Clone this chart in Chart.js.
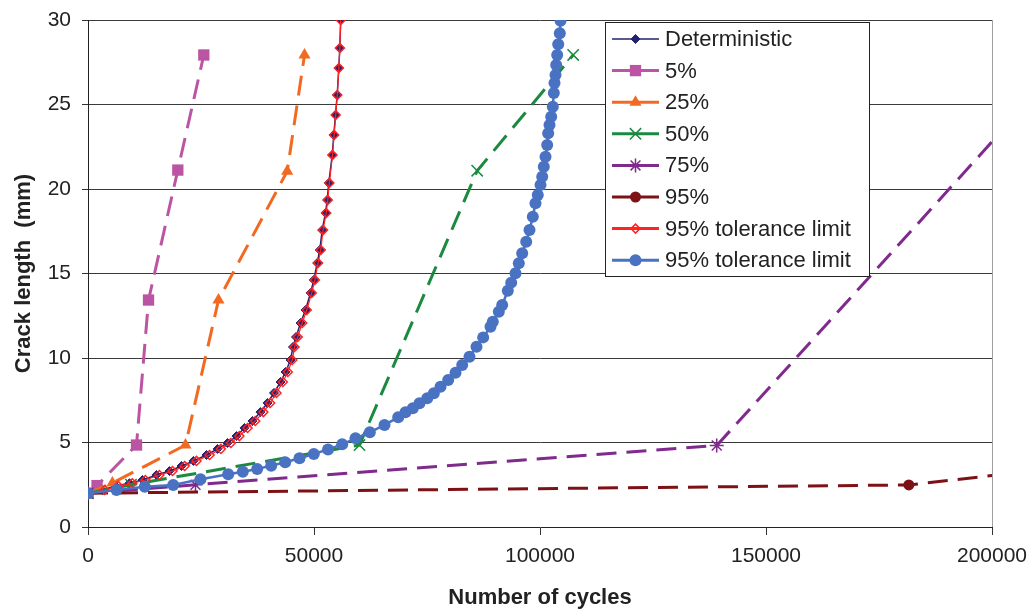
<!DOCTYPE html>
<html>
<head>
<meta charset="utf-8">
<script src="https://cdn.jsdelivr.net/npm/chart.js@4.4.1/dist/chart.umd.min.js"></script>
<style>
  body { margin: 0; background: #fff; }
  #wrap { width: 1034px; height: 609px; }
</style>
</head>
<body>
<div id="wrap"><canvas id="crackChart" width="1034" height="609"></canvas></div>
<script>
// Crack length (mm) vs number of cycles
const detN = [0, 3210, 6080, 9180, 12060, 15150, 18030, 20690, 23340, 26220, 28660, 30870, 32860, 34620, 36390, 38160, 39710, 41150, 42590, 43700, 44800, 45350, 46020, 47020, 48120, 49230, 49960, 50710, 51280, 51810, 52540, 52920, 53270, 54030, 54380, 54750, 55130, 55490, 55710, 55910];
const detA = [2.00, 2.19, 2.43, 2.59, 2.78, 3.08, 3.31, 3.61, 3.91, 4.26, 4.62, 4.97, 5.38, 5.86, 6.27, 6.80, 7.34, 7.93, 8.58, 9.17, 9.88, 10.65, 11.24, 12.07, 12.84, 13.85, 14.62, 15.62, 16.39, 17.57, 18.58, 19.35, 20.36, 22.01, 23.20, 24.38, 25.56, 27.16, 28.34, 30.0];

const tolRedN = [0, 3700, 6700, 9800, 12700, 15800, 18700, 21400, 24000, 26900, 29400, 31600, 33500, 35300, 37000, 38800, 40300, 41700, 43100, 44200, 45200, 45700, 46400, 47400, 48400, 49500, 50200, 50900, 51500, 52000, 52700, 53050, 53400, 54100, 54450, 54800, 55150, 55500, 55720, 55910];

const tolBlueN = [0, 6310, 12570, 18850, 24890, 31020, 34250, 37430, 40530, 43630, 46790, 49960, 53100, 56240, 59180, 62350, 65600, 68630, 70240, 71860, 73340, 75050, 76510, 77990, 79690, 81310, 82790, 84400, 85950, 87430, 89050, 89560, 90890, 91640, 92880, 93630, 94580, 95310, 96060, 96950, 97680, 98410, 99000, 99510, 100110, 100490, 100840, 101220, 101590, 101810, 102100, 102480, 102830, 103060, 103210, 103430, 103580, 103800, 104030, 104380, 104540];
const tolBlueA = [2.0, 2.19, 2.38, 2.49, 2.82, 3.12, 3.27, 3.43, 3.63, 3.83, 4.07, 4.32, 4.59, 4.89, 5.25, 5.60, 6.04, 6.49, 6.79, 7.02, 7.32, 7.62, 7.91, 8.30, 8.70, 9.13, 9.59, 10.08, 10.67, 11.22, 11.85, 12.15, 12.74, 13.14, 13.98, 14.46, 15.01, 15.60, 16.20, 16.88, 17.57, 18.36, 19.15, 19.64, 20.24, 20.73, 21.32, 21.91, 22.60, 23.30, 23.79, 24.28, 24.87, 25.68, 26.27, 26.75, 27.34, 27.93, 28.56, 29.21, 29.96];

const p5N = [0, 2000, 10730, 13390, 19870, 25620];
const p5A = [2, 2.45, 4.85, 13.43, 21.12, 27.93];
const p25N = [0, 5400, 21570, 28870, 44070, 47900];
const p25A = [2, 2.6, 4.85, 13.43, 21.05, 27.93];
const p50N = [0, 9500, 60070, 86100, 107340];
const p50A = [2, 2.5, 4.85, 21.08, 27.93];
const p75N = [0, 23780, 139100, 217400];
const p75A = [2, 2.5, 4.82, 27.93];
const p95N = [0, 181600, 259700];
const p95A = [2, 2.49, 4.85];

const xTicks = [0, 50000, 100000, 150000, 200000];
const yTicks = [0, 5, 10, 15, 20, 25, 30];

const pts = (xs, ys) => xs.map((x, i) => ({ x: x, y: ys[i] }));

const FONT = "'Liberation Sans', Arial, sans-serif";

const datasets = [
    { label: 'Deterministic', data: pts(detN, detA), borderColor: '#23236f', backgroundColor: '#23236f',
      borderWidth: 1.5, pointStyle: 'rectRot', pointRadius: 4.5, pointBorderWidth: 1 },
    { label: '5%', data: pts(p5N, p5A), borderColor: '#bb55a3', backgroundColor: '#bb55a3',
      borderWidth: 3, borderDash: [20, 10], pointStyle: 'rect', pointRadius: 8, pointBorderWidth: 0 },
    { label: '25%', data: pts(p25N, p25A), borderColor: '#f26a22', backgroundColor: '#f26a22',
      borderWidth: 3, borderDash: [20, 10], pointStyle: 'triangle', pointRadius: 7, pointBorderWidth: 0 },
    { label: '50%', data: pts(p50N, p50A), borderColor: '#1b8a40', backgroundColor: '#1b8a40',
      borderWidth: 3, borderDash: [20, 10], pointStyle: 'crossRot', pointRadius: 8, pointBorderWidth: 1.5 },
    { label: '75%', data: pts(p75N, p75A), borderColor: '#7f2a8c', backgroundColor: '#7f2a8c',
      borderWidth: 3, borderDash: [20, 10], pointStyle: 'star', pointRadius: 7, pointBorderWidth: 1.5 },
    { label: '95%', data: pts(p95N, p95A), borderColor: '#7d1216', backgroundColor: '#7d1216',
      borderWidth: 3, borderDash: [20, 10], pointStyle: 'circle', pointRadius: 5.5, pointBorderWidth: 0 },
    { label: '95% tolerance limit', data: pts(tolRedN, detA), borderColor: '#ff2323', backgroundColor: 'rgba(255,255,255,0)',
      borderWidth: 1.2, pointStyle: 'rectRot', pointRadius: 4.5, pointBorderWidth: 1.5 },
    { label: '95% tolerance limit', data: pts(tolBlueN, tolBlueA), borderColor: '#4a72c2', backgroundColor: '#4a72c2',
      borderWidth: 2.5, pointStyle: 'circle', pointRadius: 6, pointBorderWidth: 0 }
];
datasets.forEach((d, i) => {
    d.order = datasets.length - i;   // later series on top, like the original
    d.fill = false;
    d.tension = 0;
    d.pointBackgroundColor = d.backgroundColor;
    d.pointBorderColor = d.borderColor;
});

// legend drawn by hand: line + marker + label
const boxLegend = {
    id: 'boxLegend',
    afterDraw(chart) {
        const ctx = chart.ctx;
        const left = 605, top = 22, w = 264, h = 254;
        ctx.save();
        ctx.fillStyle = '#fff';
        ctx.fillRect(left, top, w, h);
        ctx.strokeStyle = '#222';
        ctx.lineWidth = 1;
        ctx.strokeRect(left + 0.5, top + 0.5, w, h);
        ctx.font = '22px ' + FONT;
        ctx.textBaseline = 'middle';
        datasets.forEach((d, i) => {
            const y = 39 + i * 31.6;
            ctx.setLineDash([]);
            ctx.strokeStyle = d.borderColor;
            ctx.lineWidth = i === 0 ? 1.5 : 3;
            ctx.beginPath();
            ctx.moveTo(612, y);
            ctx.lineTo(659, y);
            ctx.stroke();
            ctx.fillStyle = d.backgroundColor;
            ctx.strokeStyle = d.borderColor;
            ctx.lineWidth = d.pointBorderWidth || 1;
            Chart.helpers.drawPoint(ctx, {
                pointStyle: d.pointStyle, radius: d.pointRadius, rotation: 0,
                borderWidth: d.pointBorderWidth
            }, 635.5, y);
            ctx.fillStyle = '#222';
            ctx.fillText(d.label, 665, y + 1);
        });
        ctx.restore();
    }
};

const ctxCrack = document.getElementById('crackChart').getContext('2d');
const crackChart = new Chart(ctxCrack, {
    type: 'line',
    data: { datasets: datasets },
    plugins: [boxLegend],
    options: {
        responsive: false,
        animation: false,
        layout: { padding: { top: 20, right: 42, left: 0, bottom: 0 } },
        plugins: { legend: { display: false }, tooltip: { enabled: false } },
        scales: {
            x: {
                type: 'linear', min: 0, max: 200000,
                afterBuildTicks: s => { s.ticks = xTicks.map(v => ({ value: v })); },
                afterFit: s => { s.height = 82; s.paddingLeft = 0; s.paddingRight = 0; },
                ticks: { color: '#222', font: { family: FONT, size: 21 }, padding: 9, maxRotation: 0, callback: v => String(v) },
                grid: {
                    color: c => (c.tick && c.tick.value === 200000) ? '#a0a0a0' : 'rgba(0,0,0,0)',
                    tickColor: '#333', tickLength: 8, lineWidth: 1
                },
                border: { color: '#222', width: 1 },
                title: { display: true, text: 'Number of cycles', color: '#222',
                         font: { family: FONT, size: 22, weight: 'bold', lineHeight: 1 }, padding: 0 }
            },
            y: {
                min: 0, max: 30,
                afterBuildTicks: s => { s.ticks = yTicks.map(v => ({ value: v })); },
                afterFit: s => { s.width = 88; s.paddingTop = 0; s.paddingBottom = 0; },
                ticks: { color: '#222', font: { family: FONT, size: 21 }, padding: 11 },
                grid: { color: c => c.tick && c.tick.value === 0 ? 'rgba(0,0,0,0)' : '#3a3a3a', tickColor: '#333', tickLength: 6, lineWidth: 1 },
                border: { color: '#222', width: 1 },
                title: { display: true, text: 'Crack length  (mm)', color: '#222',
                         font: { family: FONT, size: 22, weight: 'bold', lineHeight: 1 }, padding: { top: 13, bottom: 0 } }
            }
        }
    }
});
</script>
</body>
</html>
